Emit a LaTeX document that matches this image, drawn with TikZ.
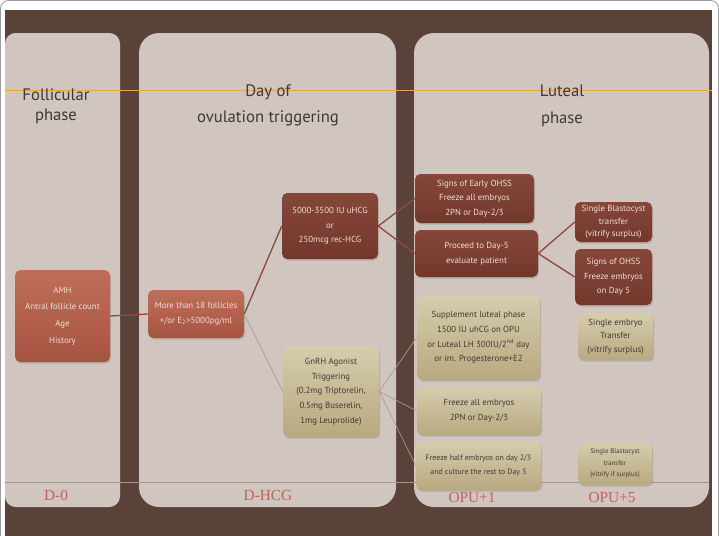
\documentclass[tikz,border=0pt]{standalone}
\usepackage{fontspec}
\setmainfont{PT Sans}
\newfontfamily\daysfont{Liberation Serif}
\usetikzlibrary{shadows}
\definecolor{framegray}{HTML}{9A9A9A}
\definecolor{bgbrown}{HTML}{5A4238}
\definecolor{panelpink}{HTML}{D1C5C0}
\definecolor{goldline}{HTML}{E6A646}
\definecolor{rusttop}{HTML}{BF6E58}
\definecolor{rustbot}{HTML}{A65442}
\definecolor{darktop}{HTML}{86473A}
\definecolor{darkbot}{HTML}{72372C}
\definecolor{khakitop}{HTML}{D6CDAE}
\definecolor{khakibot}{HTML}{B8A97F}
\definecolor{lighttext}{HTML}{EEDFD7}
\definecolor{darktext}{HTML}{3E3A36}
\definecolor{dayred}{HTML}{C0625A}
\definecolor{linkbrown}{HTML}{8E4A3C}
\definecolor{linkgray}{HTML}{A69C94}
\begin{document}
\begin{tikzpicture}[x=0.75pt,y=-0.75pt,
  box/.style={rectangle, rounded corners=4pt, align=center, inner sep=1pt,
    drop shadow={shadow xshift=0.8pt, shadow yshift=-1.2pt, opacity=0.35}},
  rustbox/.style={box, top color=rusttop, bottom color=rustbot, text=lighttext},
  darkbox/.style={box, top color=darktop, bottom color=darkbot, text=lighttext},
  khakibox/.style={box, top color=khakitop, bottom color=khakibot, text=darktext},
  title/.style={align=center, text=darktext, font=\fontsize{12.5}{15}\selectfont},
  daylabel/.style={text=dayred, font=\daysfont\fontsize{11.5}{13}\selectfont},
  small/.style={font=\fontsize{6.6}{11}\selectfont},
  brownlink/.style={-, draw=linkbrown, line width=1pt},
  graylink/.style={-, draw=linkgray, line width=0.5pt}]
\useasboundingbox (0,0) rectangle (719,536);
\fill[white] (0,0) rectangle (719,536);
\draw[framegray, line width=0.6pt, rounded corners=6pt] (0.5,0.5) rectangle (718.5,560);
\fill[bgbrown] (5,10) rectangle (712,536);
\fill[panelpink, rounded corners=8pt] (5,33) rectangle (120,507);
\fill[panelpink, rounded corners=15pt] (139,33) rectangle (396,507);
\fill[panelpink, rounded corners=15pt] (414,33) rectangle (709,507);
\draw[goldline, line width=0.7pt] (5,90) -- (712,90);
\draw[bgbrown!35!panelpink, line width=0.4pt] (5,482) -- (709,482);

\node[title] (follicular) at (56,106) {Follicular\\phase};
\node[title, font=\fontsize{12.5}{20}\selectfont] (trigger) at (268,105.5) {Day of\\ovulation triggering};
\node[title, font=\fontsize{12.5}{20}\selectfont] (luteal) at (562,105.5) {Luteal\\phase};

\node[daylabel] (d0) at (56,495) {D-0};
\node[daylabel] (dhcg) at (268,495) {D-HCG};
\node[daylabel] (opu1) at (472,497) {OPU+1};
\node[daylabel] (opu5) at (612,497) {OPU+5};

\node[rustbox, minimum width=71.25pt, minimum height=69pt, font=\fontsize{6.6}{12.4}\selectfont] (amh) at (62.5,316) {AMH\\Antral follicle count\\Age\\History};
\node[rustbox, small, minimum width=72pt, minimum height=36pt] (more) at (196,314) {More than 18 follicles\\+/or E\textsubscript{2}>5000pg/ml};
\node[darkbox, small, minimum width=72pt, minimum height=49.5pt] (hcg) at (330,226) {5000-3500 IU uHCG\\or\\250mcg rec-HCG};
\node[khakibox, small, minimum width=72pt, minimum height=68.25pt] (gnrh) at (331,391.5) {GnRH Agonist\\Triggering\\(0.2mg Triptorelin,\\0.5mg Buserelin,\\1mg Leuprolide)};

\node[darkbox, small, minimum width=89.25pt, minimum height=36.75pt] (early) at (474.5,198.5) {Signs of Early OHSS\\Freeze all embryos\\2PN or Day-2/3};
\node[darkbox, small, minimum width=92.25pt, minimum height=35.25pt] (proceed) at (476.5,253.5) {Proceed to Day-5\\evaluate patient};
\node[darkbox, font=\fontsize{6.6}{9.5}\selectfont, minimum width=57.75pt, minimum height=30pt] (blast) at (613.5,222) {Single Blastocyst\\transfer\\(vitrify surplus)};
\node[darkbox, small, minimum width=57.75pt, minimum height=42pt] (ohss) at (613.5,277) {Signs of OHSS\\Freeze embryos\\on Day 5};

\node[khakibox, small, minimum width=92.25pt, minimum height=63.75pt] (supp) at (478.5,337.5) {Supplement luteal phase\\1500 IU uhCG on OPU\\or Luteal LH 300IU/2\textsuperscript{nd} day\\or im. Progesterone+E2};
\node[khakibox, font=\fontsize{6.6}{10}\selectfont, minimum width=56.25pt, minimum height=35.25pt] (single) at (615.5,336.5) {Single embryo\\Transfer\\(vitrify surplus)};
\node[khakibox, small, minimum width=93pt, minimum height=36pt] (freezeall) at (479,411) {Freeze all embryos\\2PN or Day-2/3};
\node[khakibox, font=\fontsize{5.9}{11}\selectfont, minimum width=93.75pt, minimum height=36.75pt] (freezehalf) at (478.5,465.5) {Freeze half embryos on day 2/3\\and culture the rest to Day 5};
\node[khakibox, font=\fontsize{5.1}{8.6}\selectfont, minimum width=55.5pt, minimum height=32.25pt] (blast2) at (615,463.5) {Single Blastocyst\\transfer\\(vitrify if surplus)};

\path[brownlink] (amh.east) edge (more.west);
\path[brownlink] (more.east) edge (hcg.west);
\path[graylink] (more.east) edge (gnrh.west);
\path[brownlink] (hcg.east) edge (early.west);
\path[brownlink] (hcg.east) edge (proceed.west);
\path[brownlink] (proceed.east) edge (blast.west);
\path[brownlink] (proceed.east) edge (ohss.west);
\path[graylink] (gnrh.east) edge (supp.west);
\path[graylink] (gnrh.east) edge (freezeall.west);
\path[graylink] (gnrh.east) edge (freezehalf.west);
\end{tikzpicture}
\end{document}
